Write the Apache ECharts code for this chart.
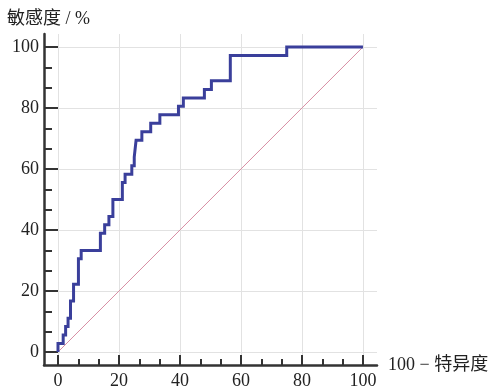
<!DOCTYPE html>
<html><head><meta charset="utf-8">
<script src="https://cdn.jsdelivr.net/npm/echarts@6/dist/echarts.min.js"></script>
<style>html,body{margin:0;padding:0;background:#fff}#c{width:489px;height:388px}</style>
</head><body><div id="c"></div>
<script>
// ROC operating points (100 - specificity, sensitivity), in %
const fpr = [0, 1.7, 2.5, 3.3, 4.1, 5.1, 6.7, 7.6, 13.9, 15.3, 16.7, 18.0, 21.1, 22.0, 24.2, 25.0, 25.6, 27.5, 30.4, 33.4, 39.5, 41.1, 48.0, 50.3, 56.5, 75.0, 100];
const tpr = [0, 2.78, 5.56, 8.33, 11.1, 16.7, 22.2, 30.6, 33.3, 38.9, 41.7, 44.4, 50.0, 55.6, 58.3, 61.1, 63.9, 69.4, 72.2, 75.0, 77.8, 80.6, 83.3, 86.1, 88.9, 97.2, 100];
const diagX = [0, 100];
const diagY = [0, 100];
const majorTicks = [0, 20, 40, 60, 80, 100];
const minorTicks = [6.67, 13.33, 26.67, 33.33, 46.67, 53.33, 66.67, 73.33, 86.67, 93.33];
const xName = '100 − 特异度';
const yName = '敏感度 / %';

const serif = '"Liberation Serif", "DejaVu Serif", "Noto Sans CJK SC", serif';
const axisColor = '#333';
const xMin = -4.59, xMax = 104.6, yMin = -4.26, yMax = 104.26;

const chart = echarts.init(document.getElementById('c'), null, {renderer: 'canvas'});
chart.setOption({
  animation: false,
  backgroundColor: '#fff',
  grid: {left: 44, right: 112, top: 34, bottom: 23, containLabel: false, outerBoundsMode: 'none'},
  xAxis: [
    {
      type: 'value', position: 'bottom', min: xMin, max: xMax,
      name: xName, nameLocation: 'end', nameGap: 11,
      nameTextStyle: {fontFamily: serif, fontSize: 18, color: '#222', padding: [0, 0, 11, 0]},
      axisLine: {show: true, onZero: false, lineStyle: {color: axisColor, width: 2.5}},
      axisTick: {show: true, inside: true, length: 10, customValues: majorTicks, lineStyle: {color: axisColor, width: 2}},
      axisLabel: {customValues: majorTicks, margin: 7, fontFamily: serif, fontSize: 18, color: '#222'},
      splitLine: {show: true, lineStyle: {color: '#e2e2e2', width: 1}}
    },
    {
      type: 'value', position: 'bottom', min: xMin, max: xMax,
      axisLine: {show: false, onZero: false},
      axisTick: {show: true, inside: true, length: 6, customValues: minorTicks, lineStyle: {color: axisColor, width: 2}},
      axisLabel: {show: false},
      splitLine: {show: false}
    }
  ],
  yAxis: [
    {
      type: 'value', position: 'left', min: yMin, max: yMax,
      name: yName, nameLocation: 'end', nameGap: 6,
      nameTextStyle: {fontFamily: serif, fontSize: 18, color: '#222', align: 'left', padding: [0, 0, 0, -37]},
      axisLine: {show: true, onZero: false, lineStyle: {color: axisColor, width: 2.5}},
      axisTick: {show: true, inside: true, length: 14, customValues: majorTicks, lineStyle: {color: axisColor, width: 2}},
      axisLabel: {customValues: majorTicks, margin: 5, fontFamily: serif, fontSize: 18, color: '#222'},
      splitLine: {show: true, lineStyle: {color: '#e2e2e2', width: 1}}
    },
    {
      type: 'value', position: 'left', min: yMin, max: yMax,
      axisLine: {show: false, onZero: false},
      axisTick: {show: true, inside: true, length: 8, customValues: minorTicks, lineStyle: {color: axisColor, width: 2}},
      axisLabel: {show: false},
      splitLine: {show: false}
    }
  ],
  series: [
    {
      type: 'line', xAxisIndex: 0, yAxisIndex: 0,
      data: diagX.map((x, i) => [x, diagY[i]]),
      showSymbol: false, silent: true,
      lineStyle: {color: '#d88ea4', width: 1}, z: 2
    },
    {
      type: 'line', xAxisIndex: 0, yAxisIndex: 0,
      data: fpr.map((x, i) => [x, tpr[i]]),
      step: 'start', showSymbol: false, silent: true,
      lineStyle: {color: '#3a3f9b', width: 3, join: 'miter'}, z: 3
    }
  ]
});
</script>
</body></html>
